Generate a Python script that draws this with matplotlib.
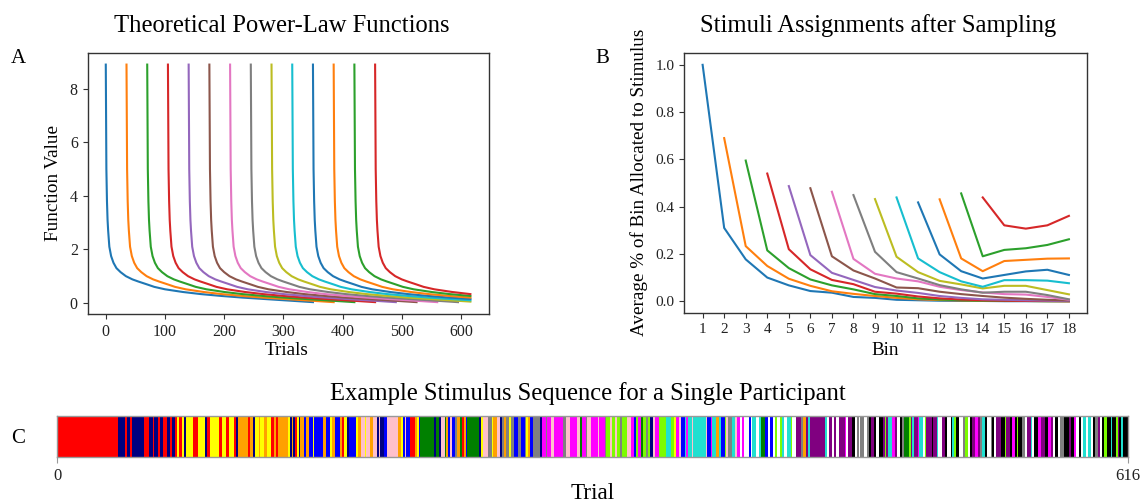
import numpy as np
import matplotlib
matplotlib.use("Agg")
import matplotlib.pyplot as plt
from matplotlib.colors import ListedColormap

plt.rcParams['font.family'] = ['Liberation Serif', 'DejaVu Serif']

# ---- Panel A: theoretical power-law curves (one per stimulus, shifted by onset)
n_trials = 616
onsets = [0, 35, 70, 105, 140, 175, 210, 245, 280, 315, 350, 385, 420, 455]
decay_dist = [0, 1, 2, 3, 4, 6, 9, 13, 18, 25, 34, 45, 55, 70, 82, 100,
              130, 161, 196, 231, 266, 301, 336, 350]
decay_value = [8.9, 5.0, 3.8, 3.1, 2.7, 2.1, 1.75, 1.5, 1.3, 1.15, 1.0, 0.88,
               0.8, 0.69, 0.6, 0.51, 0.41, 0.33, 0.26, 0.2, 0.15, 0.1, 0.05, 0.03]

# ---- Panel B: average share of each bin given to each stimulus
bins = list(range(1, 19))
alloc_01 = [1.0, 0.31, 0.177, 0.10, 0.067, 0.043, 0.036, 0.018, 0.014, 0.006, 0.004, 0.002, 0.001, 0.001, 0.0, 0.0, 0.0, 0.0]
alloc_02 = [0.69, 0.233, 0.149, 0.095, 0.065, 0.042, 0.031, 0.022, 0.014, 0.008, 0.005, 0.003, 0.002, 0.001, 0.001, 0.0, 0.0]
alloc_03 = [0.595, 0.215, 0.14, 0.092, 0.067, 0.05, 0.03, 0.022, 0.012, 0.007, 0.004, 0.002, 0.001, 0.001, 0.0, 0.0]
alloc_04 = [0.54, 0.22, 0.135, 0.09, 0.072, 0.04, 0.032, 0.02, 0.012, 0.007, 0.004, 0.002, 0.001, 0.001, 0.0]
alloc_05 = [0.487, 0.195, 0.12, 0.09, 0.06, 0.045, 0.035, 0.022, 0.014, 0.008, 0.006, 0.004, 0.002, 0.001]
alloc_06 = [0.478, 0.19, 0.13, 0.096, 0.058, 0.055, 0.04, 0.03, 0.022, 0.015, 0.01, 0.006, 0.003]
alloc_07 = [0.463, 0.179, 0.116, 0.096, 0.084, 0.061, 0.047, 0.037, 0.03, 0.028, 0.018, 0.006]
alloc_08 = [0.449, 0.209, 0.123, 0.096, 0.068, 0.05, 0.036, 0.04, 0.04, 0.026, 0.008]
alloc_09 = [0.432, 0.188, 0.123, 0.086, 0.071, 0.054, 0.065, 0.065, 0.047, 0.029]
alloc_10 = [0.439, 0.181, 0.123, 0.084, 0.061, 0.089, 0.089, 0.087, 0.076]
alloc_11 = [0.418, 0.198, 0.127, 0.096, 0.111, 0.126, 0.133, 0.111]
alloc_12 = [0.431, 0.181, 0.127, 0.170, 0.175, 0.18, 0.181]
alloc_13 = [0.456, 0.19, 0.217, 0.224, 0.238, 0.262]
alloc_14 = [0.439, 0.321, 0.307, 0.321, 0.361]
alloc_series = [alloc_01, alloc_02, alloc_03, alloc_04, alloc_05, alloc_06, alloc_07,
                alloc_08, alloc_09, alloc_10, alloc_11, alloc_12, alloc_13, alloc_14]

# ---- Panel C: stimulus shown on each trial (run-length coded, letter = stimulus)
stim_codes = "RNYOBPGAMLTWUK"
stim_colors = ['#ff0000', '#000080', '#ffff00', '#ffa000', '#0000ff', '#ffc0cb', '#008000',
               '#808080', '#ff00ff', '#7cfc00', '#20e0d0', '#ffffff', '#800080', '#000000']
sequence_runs = [
    "R35 N4 R1 N2 R1 N7 R3 N2 R1 N2 R1 N2 R2 N2 R1 N2 R1 Y1 R2 Y1 N1 Y4 R3 Y4 N1 R2 Y5 R2 Y2 R2 Y3",
    "R1 N1 O6 R1 O2 N1 Y2 O1 Y2 O2 Y2 R2 O1 R1 O6 Y1 N1 O1 N1 R1 Y1 N1 O2 B1 O2 B2 Y1 B5 O2 B2 "
    "Y1 O2 B3 O1 R1 Y2 N1 B4 Y1 O2 P2 Y1 P2 O2 P2 N1 P1 N2 B2 P6 O2 Y1 B1 P1 B2 R3",
    "O1 Y1 B1 G8 N1 G2 N1 P2 G1 O1 B1 P1 B2 A1 O2 G1 R1 O1 B1 G7 N1 Y1 P3 A2 Y1 O2 P2 N1 A1 O1 "
    "A2 Y1 A2 B2 A2 B2 A1 Y1 O1 B2 A4 N1 M2 A1 M2 P2 M5 A2 P2 M4 P2 G1 M2 A1 P2 M2",
    "M2 P1 M3 A1 L2 P1 L2 P1 L2 A1 L3 P2 M2 B1 L1 M2 G1 L2 A1 L1 N2 P1 M2 L4 T3 L2 Y1 M2 P1 B2 "
    "T1 M1 T2 P1 T7 P1 B2 M1 T2 O2 T1 B2 L1 P1 A2 T2 P1 M2 W1 M1 W3 B1 W1 T2 W2 T1 G2 B2 W1 B2 W1",
    "L1 W2 L1 T1 W2 T2 L1 W2 U3 A1 O2 U1 T1 U9 T1 W1 U2 W1 U1 W2 U3 M1 W1 U2 K2 W1 A1 W1 A2 W2 "
    "A1 K1 U2 K1 W2 K2 U1 L1 U1 T2 M2 U1 W2 K1 A1 G3 L1 U1 T1 U2 M1 T2 W1 L1 U3 K1 U2 T1 W2 U2 "
    "K1 W2 K1 T1",
    "L1 K2 W2 A1 L2 W1 K1 U2 M2 U1 A1 T2 K1 W2 A1 K1 W1 U3 K2 L1 U2 K1 M2 K1 L1 K2 A2 W1 U2 T1 "
    "W1 K2 M2 U2 K2 M2 U1 W1 K2 W1 A2 K3 U1 K2 M1 W2 K1 W1 T2 W1 T2 W1 K1 A2 U1 W1 K1 L2 K2 T1 "
    "K2 L1 U1 K1 T1 K3",
]

trial_stim = []
for tok in " ".join(sequence_runs).split():
    trial_stim += [stim_codes.index(tok[0])] * int(tok[1:])
trial_stim = np.array(trial_stim)

# ---- figure
fig = plt.figure(figsize=(11.43, 5.03), dpi=100)
spine_col = '#333333'

# Panel A
axA = fig.add_axes([0.0766, 0.3757, 0.3509, 0.5195])
for on in onsets:
    xs = [on + d for d in decay_dist if on + d <= n_trials]
    ys = decay_value[:len(xs)]
    axA.plot(xs, ys, lw=1.5)
axA.set_xticks([0, 100, 200, 300, 400, 500, 600])
axA.set_yticks([0, 2, 4, 6, 8])

# Panel B
axB = fig.add_axes([0.5987, 0.3777, 0.3525, 0.5169])
for i, vals in enumerate(alloc_series):
    axB.plot(bins[i:], vals, lw=1.5)
axB.set_xticks(bins)
axB.set_yticks([0.0, 0.2, 0.4, 0.6, 0.8, 1.0])

for ax, fs in [(axA, 11.5), (axB, 11)]:
    for sp in ax.spines.values():
        sp.set_color(spine_col)
        sp.set_linewidth(1.0)
    ax.tick_params(colors=spine_col, labelcolor='#222222', labelsize=fs)

# Panel C
axC = fig.add_axes([0.0501, 0.0909, 0.9370, 0.0827])
axC.imshow(trial_stim[None, :], aspect='auto', cmap=ListedColormap(stim_colors),
           vmin=-0.5, vmax=len(stim_codes) - 0.5, interpolation='nearest',
           extent=[0, len(trial_stim), 0, 1])
axC.set_xticks([0, len(trial_stim)])
axC.set_xticklabels(['0', str(len(trial_stim))])
axC.set_yticks([])
for sp in axC.spines.values():
    sp.set_color('#999999')
    sp.set_linewidth(1.0)
axC.tick_params(colors='#999999', labelcolor='#222222', labelsize=12, length=4)

# texts
fig.text(0.2467, 0.9358, "Theoretical Power-Law Functions", ha='center', va='baseline', fontsize=17.7)
fig.text(0.7687, 0.9370, "Stimuli Assignments after Sampling", ha='center', va='baseline', fontsize=17.7)
fig.text(0.5144, 0.2048, "Example Stimulus Sequence for a Single Participant", ha='center', va='baseline', fontsize=17.7)
fig.text(0.0157, 0.8754, "A", ha='center', va='baseline', fontsize=15)
fig.text(0.527, 0.8754, "B", ha='center', va='baseline', fontsize=15)
fig.text(0.0157, 0.1187, "C", ha='center', va='baseline', fontsize=15)
fig.text(0.0469, 0.636, "Function Value", rotation=90, ha='center', va='center', fontsize=13.8)
fig.text(0.559, 0.637, "Average % of Bin Allocated to Stimulus", rotation=90, ha='center', va='center', fontsize=13.8)
fig.text(0.251, 0.2942, "Trials", ha='center', va='baseline', fontsize=13.8)
fig.text(0.7749, 0.2942, "Bin", ha='center', va='baseline', fontsize=13.8)
fig.text(0.5188, 0.008, "Trial", ha='center', va='baseline', fontsize=16.7)

fig.savefig("out.png", dpi=100)
